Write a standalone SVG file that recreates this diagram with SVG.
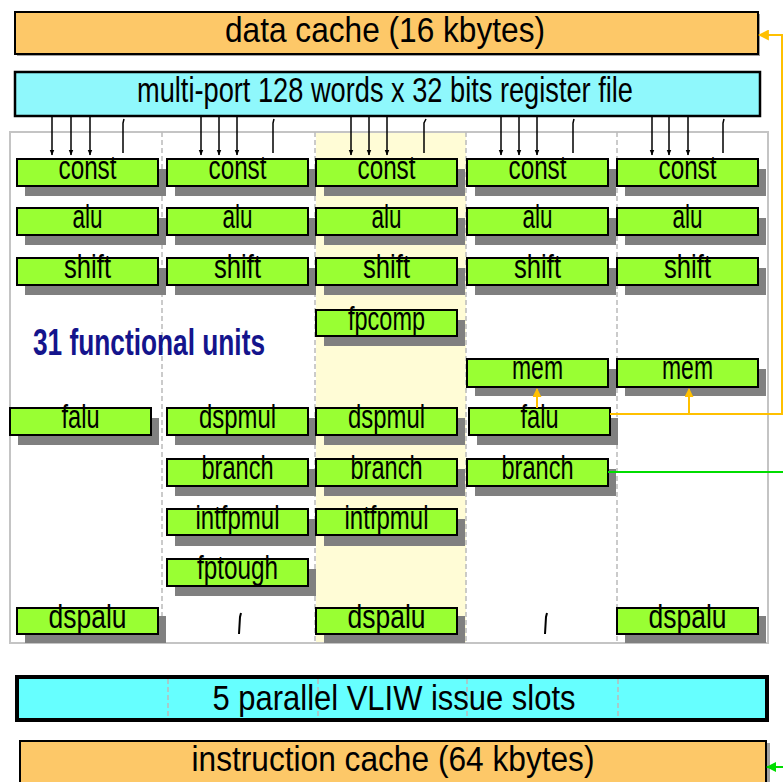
<svg xmlns="http://www.w3.org/2000/svg" width="783" height="782" viewBox="0 0 783 782">
<defs>
<style>
.fu{fill:#99FF33;stroke:#000;stroke-width:2}
.sh{fill:#808080}
.lbl{font-family:"Liberation Sans",Arial,sans-serif;font-size:34px;text-anchor:middle;fill:#000}
.big{font-family:"Liberation Sans",Arial,sans-serif;font-size:35px;text-anchor:middle;fill:#000}
.div{stroke:#BBBBBB;stroke-width:1.5;stroke-dasharray:5,3;fill:none}
.bus{stroke:#000;stroke-width:1.5;fill:none}
</style>
<marker id="ah" viewBox="0 0 10 10" refX="9" refY="5" markerWidth="4" markerHeight="5" orient="auto" markerUnits="strokeWidth"><path d="M0,1 L10,5 L0,9 z" fill="#000"/></marker>
<marker id="ay" viewBox="0 0 10 10" refX="9" refY="5" markerWidth="9" markerHeight="9" orient="auto" markerUnits="userSpaceOnUse"><path d="M0,0 L10,5 L0,10 z" fill="#FFC000"/></marker>
<marker id="ay2" viewBox="0 0 10 10" refX="9" refY="5" markerWidth="11" markerHeight="11" orient="auto" markerUnits="userSpaceOnUse"><path d="M0,0 L10,5 L0,10 z" fill="#FFC000"/></marker>
<marker id="ag" viewBox="0 0 10 10" refX="9" refY="5" markerWidth="10" markerHeight="10" orient="auto" markerUnits="userSpaceOnUse"><path d="M0,0 L10,5 L0,10 z" fill="#00DD00"/></marker>
</defs>
<rect width="783" height="782" fill="#fff"/>

<g id="panel">
<rect x="316" y="132" width="150" height="511" fill="#FFFCD6"/>
<rect x="10" y="132" width="758" height="511" fill="none" stroke="#C4C4C4" stroke-width="2"/>
<line class="div" x1="162" y1="132" x2="162" y2="643"/>
<line class="div" x1="315" y1="132" x2="315" y2="643"/>
<line class="div" x1="466" y1="132" x2="466" y2="643"/>
<line class="div" x1="617" y1="132" x2="617" y2="643"/>
</g>

<g id="data-cache">
<rect x="17" y="14" width="743" height="42" fill="#A0A0A0"/>
<rect x="15" y="12" width="743" height="42" fill="#FDC868" stroke="#000" stroke-width="2"/>
<text class="big" x="385" y="42" textLength="320" lengthAdjust="spacingAndGlyphs">data cache (16 kbytes)</text>
</g>

<g id="register-file">
<rect x="15" y="72" width="745" height="44" fill="#8FF8FC" stroke="#000" stroke-width="2.5"/>
<text class="big" x="385" y="102" font-size="33" textLength="496" lengthAdjust="spacingAndGlyphs">multi-port 128 words x 32 bits register file</text>
</g>

<g id="title-31">
<text x="33" y="355" font-family="Liberation Sans, Arial, sans-serif" font-size="36" font-weight="bold" fill="#14148C" textLength="232" lengthAdjust="spacingAndGlyphs">31 functional units</text>
</g>

<g id="units">
<!-- slot 1 -->
<g id="s1-const"><rect class="sh" x="25" y="169" width="141" height="27"/><rect class="fu" x="17" y="159" width="141" height="27"/><text class="lbl" x="87.5" y="179" textLength="58" lengthAdjust="spacingAndGlyphs">const</text></g>
<g id="s1-alu"><rect class="sh" x="25" y="218" width="141" height="27"/><rect class="fu" x="17" y="208" width="141" height="27"/><text class="lbl" x="87.5" y="228" textLength="30" lengthAdjust="spacingAndGlyphs">alu</text></g>
<g id="s1-shift"><rect class="sh" x="25" y="268" width="141" height="27"/><rect class="fu" x="17" y="258" width="141" height="27"/><text class="lbl" x="87.5" y="278" textLength="47" lengthAdjust="spacingAndGlyphs">shift</text></g>
<g id="s1-falu"><rect class="sh" x="18" y="418" width="141" height="27"/><rect class="fu" x="10" y="408" width="141" height="27"/><text class="lbl" x="80.5" y="428" textLength="38" lengthAdjust="spacingAndGlyphs">falu</text></g>
<g id="s1-dspalu"><rect class="sh" x="25" y="616" width="141" height="27"/><rect class="fu" x="17" y="608" width="141" height="26"/><text class="lbl" x="87.5" y="628" textLength="78" lengthAdjust="spacingAndGlyphs">dspalu</text></g>
<!-- slot 2 -->
<g id="s2-const"><rect class="sh" x="175" y="169" width="141" height="27"/><rect class="fu" x="167" y="159" width="141" height="27"/><text class="lbl" x="237.5" y="179" textLength="58" lengthAdjust="spacingAndGlyphs">const</text></g>
<g id="s2-alu"><rect class="sh" x="175" y="218" width="141" height="27"/><rect class="fu" x="167" y="208" width="141" height="27"/><text class="lbl" x="237.5" y="228" textLength="30" lengthAdjust="spacingAndGlyphs">alu</text></g>
<g id="s2-shift"><rect class="sh" x="175" y="268" width="141" height="27"/><rect class="fu" x="167" y="258" width="141" height="27"/><text class="lbl" x="237.5" y="278" textLength="47" lengthAdjust="spacingAndGlyphs">shift</text></g>
<g id="s2-dspmul"><rect class="sh" x="175" y="418" width="141" height="27"/><rect class="fu" x="167" y="408" width="141" height="27"/><text class="lbl" x="237.5" y="428" textLength="77" lengthAdjust="spacingAndGlyphs">dspmul</text></g>
<g id="s2-branch"><rect class="sh" x="175" y="469" width="141" height="27"/><rect class="fu" x="167" y="459" width="141" height="27"/><text class="lbl" x="237.5" y="479" textLength="72" lengthAdjust="spacingAndGlyphs">branch</text></g>
<g id="s2-intfpmul"><rect class="sh" x="175" y="519" width="141" height="27"/><rect class="fu" x="167" y="509" width="141" height="26"/><text class="lbl" x="237.5" y="529" textLength="84" lengthAdjust="spacingAndGlyphs">intfpmul</text></g>
<g id="s2-fptough"><rect class="sh" x="175" y="569" width="141" height="27"/><rect class="fu" x="167" y="559" width="141" height="27"/><text class="lbl" x="237.5" y="579" textLength="81" lengthAdjust="spacingAndGlyphs">fptough</text></g>
<!-- slot 3 -->
<g id="s3-const"><rect class="sh" x="324" y="169" width="141" height="27"/><rect class="fu" x="316" y="159" width="141" height="27"/><text class="lbl" x="386.5" y="179" textLength="58" lengthAdjust="spacingAndGlyphs">const</text></g>
<g id="s3-alu"><rect class="sh" x="324" y="218" width="141" height="27"/><rect class="fu" x="316" y="208" width="141" height="27"/><text class="lbl" x="386.5" y="228" textLength="30" lengthAdjust="spacingAndGlyphs">alu</text></g>
<g id="s3-shift"><rect class="sh" x="324" y="268" width="141" height="27"/><rect class="fu" x="316" y="258" width="141" height="27"/><text class="lbl" x="386.5" y="278" textLength="47" lengthAdjust="spacingAndGlyphs">shift</text></g>
<g id="s3-fpcomp"><rect class="sh" x="324" y="320" width="141" height="26"/><rect class="fu" x="316" y="310" width="141" height="26"/><text class="lbl" x="386.5" y="330" textLength="77" lengthAdjust="spacingAndGlyphs">fpcomp</text></g>
<g id="s3-dspmul"><rect class="sh" x="324" y="418" width="141" height="27"/><rect class="fu" x="316" y="408" width="141" height="27"/><text class="lbl" x="386.5" y="428" textLength="77" lengthAdjust="spacingAndGlyphs">dspmul</text></g>
<g id="s3-branch"><rect class="sh" x="324" y="469" width="141" height="27"/><rect class="fu" x="316" y="459" width="141" height="27"/><text class="lbl" x="386.5" y="479" textLength="72" lengthAdjust="spacingAndGlyphs">branch</text></g>
<g id="s3-intfpmul"><rect class="sh" x="324" y="519" width="141" height="27"/><rect class="fu" x="316" y="509" width="141" height="26"/><text class="lbl" x="386.5" y="529" textLength="84" lengthAdjust="spacingAndGlyphs">intfpmul</text></g>
<g id="s3-dspalu"><rect class="sh" x="324" y="616" width="141" height="27"/><rect class="fu" x="316" y="608" width="141" height="26"/><text class="lbl" x="386.5" y="628" textLength="78" lengthAdjust="spacingAndGlyphs">dspalu</text></g>
<!-- slot 4 -->
<g id="s4-const"><rect class="sh" x="475" y="169" width="141" height="27"/><rect class="fu" x="467" y="159" width="141" height="27"/><text class="lbl" x="537.5" y="179" textLength="58" lengthAdjust="spacingAndGlyphs">const</text></g>
<g id="s4-alu"><rect class="sh" x="475" y="218" width="141" height="27"/><rect class="fu" x="467" y="208" width="141" height="27"/><text class="lbl" x="537.5" y="228" textLength="30" lengthAdjust="spacingAndGlyphs">alu</text></g>
<g id="s4-shift"><rect class="sh" x="475" y="268" width="141" height="27"/><rect class="fu" x="467" y="258" width="141" height="27"/><text class="lbl" x="537.5" y="278" textLength="47" lengthAdjust="spacingAndGlyphs">shift</text></g>
<g id="s4-mem"><rect class="sh" x="475" y="369" width="141" height="27"/><rect class="fu" x="467" y="359" width="141" height="28"/><text class="lbl" x="537.5" y="379" textLength="51" lengthAdjust="spacingAndGlyphs">mem</text></g>
<g id="s4-falu"><rect class="sh" x="477" y="418" width="141" height="27"/><rect class="fu" x="469" y="408" width="141" height="27"/><text class="lbl" x="539.5" y="428" textLength="38" lengthAdjust="spacingAndGlyphs">falu</text></g>
<g id="s4-branch"><rect class="sh" x="475" y="469" width="141" height="27"/><rect class="fu" x="467" y="459" width="141" height="27"/><text class="lbl" x="537.5" y="479" textLength="72" lengthAdjust="spacingAndGlyphs">branch</text></g>
<!-- slot 5 -->
<g id="s5-const"><rect class="sh" x="625" y="169" width="141" height="27"/><rect class="fu" x="617" y="159" width="141" height="27"/><text class="lbl" x="687.5" y="179" textLength="58" lengthAdjust="spacingAndGlyphs">const</text></g>
<g id="s5-alu"><rect class="sh" x="625" y="218" width="141" height="27"/><rect class="fu" x="617" y="208" width="141" height="27"/><text class="lbl" x="687.5" y="228" textLength="30" lengthAdjust="spacingAndGlyphs">alu</text></g>
<g id="s5-shift"><rect class="sh" x="625" y="268" width="141" height="27"/><rect class="fu" x="617" y="258" width="141" height="27"/><text class="lbl" x="687.5" y="278" textLength="47" lengthAdjust="spacingAndGlyphs">shift</text></g>
<g id="s5-mem"><rect class="sh" x="625" y="369" width="141" height="27"/><rect class="fu" x="617" y="359" width="141" height="28"/><text class="lbl" x="687.5" y="379" textLength="51" lengthAdjust="spacingAndGlyphs">mem</text></g>
<g id="s5-dspalu"><rect class="sh" x="625" y="616" width="141" height="27"/><rect class="fu" x="617" y="608" width="141" height="26"/><text class="lbl" x="687.5" y="628" textLength="78" lengthAdjust="spacingAndGlyphs">dspalu</text></g>
</g>

<g id="vliw">
<rect x="17" y="677" width="750" height="43" fill="#66FFFF" stroke="#000" stroke-width="4"/>
<line class="div" x1="168" y1="679" x2="168" y2="718"/>
<line class="div" x1="318" y1="679" x2="318" y2="718"/>
<line class="div" x1="467" y1="679" x2="467" y2="718"/>
<line class="div" x1="618" y1="679" x2="618" y2="718"/>
<text class="big" x="394" y="710" textLength="363" lengthAdjust="spacingAndGlyphs">5 parallel VLIW issue slots</text>
</g>

<g id="instruction-cache">
<rect x="22" y="743" width="748" height="45" fill="#A0A0A0"/>
<rect x="20" y="741" width="746" height="45" fill="#FDC868" stroke="#000" stroke-width="2"/>
<text class="big" x="393" y="771" textLength="403" lengthAdjust="spacingAndGlyphs">instruction cache (64 kbytes)</text>
</g>

<g id="connectors">
<g class="bus">
<line x1="52" y1="117" x2="52" y2="155" marker-end="url(#ah)"/>
<line x1="71" y1="117" x2="71" y2="155" marker-end="url(#ah)"/>
<line x1="90" y1="117" x2="90" y2="155" marker-end="url(#ah)"/>
<path d="M124,119 L123,123 L123,153"/>
<line x1="201" y1="117" x2="201" y2="155" marker-end="url(#ah)"/>
<line x1="219" y1="117" x2="219" y2="155" marker-end="url(#ah)"/>
<line x1="237" y1="117" x2="237" y2="155" marker-end="url(#ah)"/>
<path d="M274,119 L273,123 L273,153"/>
<line x1="351" y1="117" x2="351" y2="155" marker-end="url(#ah)"/>
<line x1="369" y1="117" x2="369" y2="155" marker-end="url(#ah)"/>
<line x1="387" y1="117" x2="387" y2="155" marker-end="url(#ah)"/>
<path d="M426,119 L424,123 L424,153"/>
<line x1="501" y1="117" x2="501" y2="155" marker-end="url(#ah)"/>
<line x1="519" y1="117" x2="519" y2="155" marker-end="url(#ah)"/>
<line x1="537" y1="117" x2="537" y2="155" marker-end="url(#ah)"/>
<path d="M574,119 L573,123 L573,153"/>
<line x1="652" y1="117" x2="652" y2="155" marker-end="url(#ah)"/>
<line x1="669" y1="117" x2="669" y2="155" marker-end="url(#ah)"/>
<line x1="688" y1="117" x2="688" y2="155" marker-end="url(#ah)"/>
<path d="M724,119 L723,123 L723,153"/>
<path d="M241,613 L240,617 L239,634" stroke-width="2"/>
<path d="M547,613 L546,617 L545,634" stroke-width="2"/>
</g>
<path d="M610,414 H782 V35 H759" fill="none" stroke="#FFC000" stroke-width="2" marker-end="url(#ay2)"/>
<line x1="537" y1="408" x2="537" y2="389" stroke="#FFC000" stroke-width="2" marker-end="url(#ay)"/>
<line x1="689" y1="414" x2="689" y2="389" stroke="#FFC000" stroke-width="2" marker-end="url(#ay)"/>
<path d="M608,472 H786 V767 H767" fill="none" stroke="#00DD00" stroke-width="2" marker-end="url(#ag)"/>
</g>
</svg>
